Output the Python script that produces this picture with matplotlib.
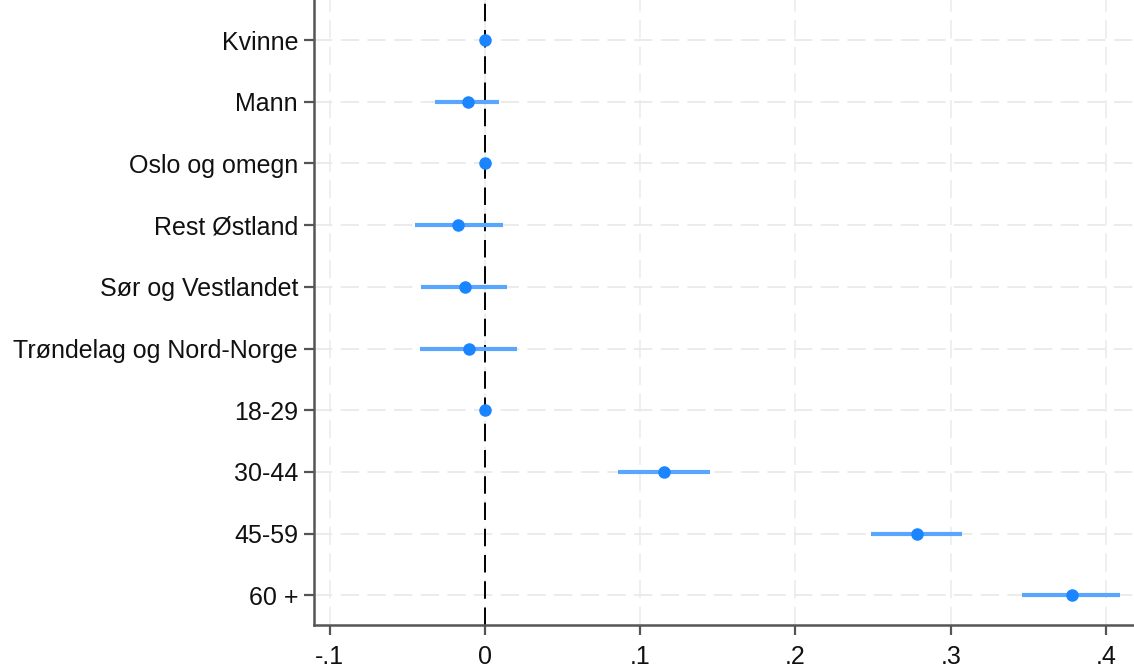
import matplotlib.pyplot as plt
import numpy as np

# Coefficients with 95% CI
labels = ["Kvinne", "Mann", "Oslo og omegn", "Rest Østland", "Sør og Vestlandet",
          "Trøndelag og Nord-Norge", "18-29", "30-44", "45-59", "60 +"]
coef = [0.0, -0.011, 0.0, -0.017, -0.013, -0.010, 0.0, 0.1155, 0.278, 0.378]
ci_low = [0.0, -0.032, 0.0, -0.045, -0.041, -0.042, 0.0, 0.086, 0.2485, 0.346]
ci_high = [0.0, 0.009, 0.0, 0.012, 0.014, 0.021, 0.0, 0.145, 0.307, 0.409]
xticks = [-0.1, 0, 0.1, 0.2, 0.3, 0.4]
xticklabels = ["-.1", "0", ".1", ".2", ".3", ".4"]

plt.rcParams['font.family'] = ['Liberation Sans', 'DejaVu Sans']

fig = plt.figure(figsize=(11.34, 6.70), dpi=100)
ax = fig.add_axes([0.2769, 0.0672, 0.7231, 0.9328])

ypos = np.arange(1, len(labels) + 1)

# light dashed grid
grid_dash = (0, (11, 5))
for x in xticks:
    ax.axvline(x, color='#ececec', lw=1.2, ls=grid_dash, zorder=0)
for y in ypos:
    ax.axhline(y, color='#e8e8e8', lw=1.2, ls=grid_dash, zorder=0)

# reference line at zero
ax.axvline(0, color='black', lw=1.4, ls=(0, (9, 4.5)), zorder=1)

ax.hlines(ypos, ci_low, ci_high, color='#5aa6ff', lw=3, zorder=2)
ax.plot(coef, ypos, 'o', color='#1a85ff', ms=8, zorder=3)

ax.set_xlim(-0.110, 0.418)
ax.set_ylim(10.48, 0.35)
ax.set_yticks(ypos)
ax.set_yticklabels(labels)
ax.set_xticks(xticks)
ax.set_xticklabels(xticklabels)

for s in ['top', 'right']:
    ax.spines[s].set_visible(False)
for s in ['left', 'bottom']:
    ax.spines[s].set_color('#555555')
    ax.spines[s].set_linewidth(1.8)

ax.tick_params(axis='both', colors='#555555', labelcolor='#111111', labelsize=18,
               length=7.5, width=1.6)
ax.tick_params(axis='y', pad=4)
ax.tick_params(axis='x', pad=7)

plt.savefig("out.png", dpi=100)
